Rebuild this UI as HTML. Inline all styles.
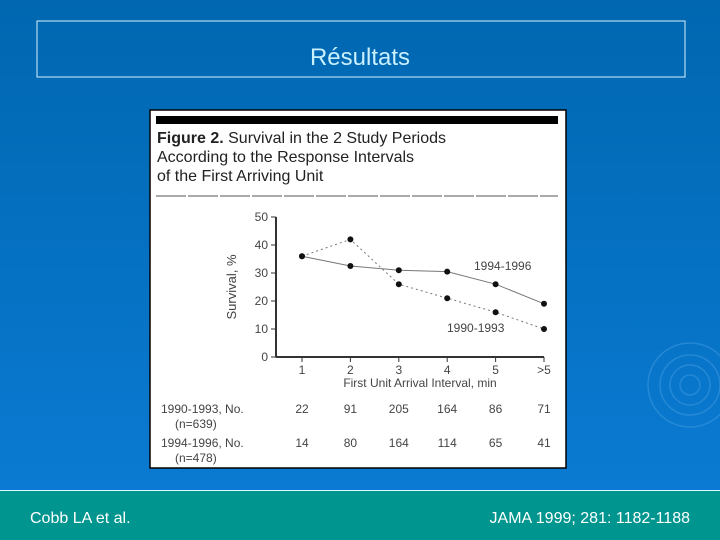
<!DOCTYPE html>
<html><head><meta charset="utf-8"><style>
body{margin:0;width:720px;height:540px;overflow:hidden;font-family:"Liberation Sans",sans-serif}
svg{display:block}
</style></head><body>
<svg id="s" width="720" height="540" xmlns="http://www.w3.org/2000/svg">
<defs><linearGradient id="bg" x1="0" y1="0" x2="0" y2="1"><stop offset="0" stop-color="#0067b0"/><stop offset="1" stop-color="#0a7ad2"/></linearGradient></defs>
<rect width="720" height="490" fill="url(#bg)"/>
<g fill="none" stroke="#3a95dc" stroke-width="1.5" opacity="0.6">
<circle cx="690" cy="385" r="10"/><circle cx="690" cy="385" r="20"/><circle cx="690" cy="385" r="30"/><circle cx="690" cy="385" r="42"/>
</g>
<rect x="37" y="21" width="648" height="56" fill="none" stroke="#d8f0ff" stroke-width="1"/>
<text x="360" y="65" font-size="24" fill="#c8f0ff" text-anchor="middle">Résultats</text>
<rect x="0" y="490" width="720" height="50" fill="#00958f"/>
<line x1="0" y1="490.5" x2="720" y2="490.5" stroke="#e0f8ff"/>
<text x="30" y="523" font-size="16" fill="#fff">Cobb LA et al.</text>
<text x="690" y="523" font-size="16" fill="#fff" text-anchor="end">JAMA 1999; 281: 1182-1188</text>

<rect x="150" y="110" width="416" height="358" fill="#fff" stroke="#000" stroke-width="1.5"/>
<rect x="156" y="116" width="402" height="8" fill="#000"/>
<text x="157" y="143" font-size="16" fill="#222"><tspan font-weight="bold">Figure 2.</tspan> Survival in the 2 Study Periods</text>
<text x="157" y="162" font-size="16" fill="#222">According to the Response Intervals</text>
<text x="157" y="181" font-size="16" fill="#222">of the First Arriving Unit</text>
<line x1="156" y1="196" x2="558" y2="196" stroke="#555" stroke-dasharray="30 2"/>
<g id="chart"></g>
</svg>
<script>
const categories=["1","2","3","4","5",">5"];
const series1990=[36,42,26,21,16,10];
const series1994=[36,32.5,31,30.5,26,19];
const yTicks=[0,10,20,30,40,50];
const counts1990=[22,91,205,164,86,71];
const counts1994=[14,80,164,114,65,41];
const NS="http://www.w3.org/2000/svg";
const g=document.getElementById('chart');
const x=i=>302+i*48.4;
const y=v=>357-v*2.8;
function el(t,a,txt){const e=document.createElementNS(NS,t);for(const k in a)e.setAttribute(k,a[k]);if(txt!==undefined)e.textContent=txt;g.appendChild(e);return e;}
let e;
e=el('line',{x1:276,y1:y(50),x2:276,y2:y(0),stroke:'#333','stroke-width':2});


e=el('line',{x1:276,y1:y(0),x2:x(5),y2:y(0),stroke:'#333','stroke-width':2});


yTicks.forEach(v=>{
 e=el('text',{x:268,y:y(v)+4,'font-size':12,fill:'#444','text-anchor':'end'},v);
 
 
 e=el('line',{x1:271,y1:y(v),x2:276,y2:y(v),stroke:'#333'});
 
 
});
categories.forEach((c,i)=>{
 e=el('text',{x:x(i),y:y(0)+17,'font-size':12,fill:'#444','text-anchor':'middle'},c);
 
 
 e=el('line',{x1:x(i),y1:y(0),x2:x(i),y2:y(0)+5,stroke:'#333'});
 
 
 e=el('text',{x:x(i),y:413,'font-size':12,fill:'#444','text-anchor':'middle'},counts1990[i]);
 
 
 e=el('text',{x:x(i),y:447,'font-size':12,fill:'#444','text-anchor':'middle'},counts1994[i]);
 
 
});
e=el('text',{x:420,y:387,'font-size':12,fill:'#444','text-anchor':'middle'},'First Unit Arrival Interval, min');


e=el('text',{x:0,y:0,'font-size':13,fill:'#444','text-anchor':'middle',transform:'translate(236,287) rotate(-90)'},'Survival, %');


[['1990-1993',series1990,'2 3'],['1994-1996',series1994,'']].forEach(([nm,s,d])=>{
 e=el('polyline',{points:s.map((v,i)=>x(i)+','+y(v)).join(' '),fill:'none',stroke:'#777','stroke-width':1,'stroke-dasharray':d});
 
 
 s.forEach((v,i)=>{
  e=el('circle',{cx:x(i),cy:y(v),r:3,fill:'#111'});
  
  
 });
});
e=el('text',{x:474,y:270,'font-size':12,fill:'#444'},'1994-1996');


e=el('text',{x:447,y:332,'font-size':12,fill:'#444'},'1990-1993');


[['1990-1993, No.',413],['(n=639)',428],['1994-1996, No.',447],['(n=478)',462]].forEach(([t,yy],k)=>{
 e=el('text',{x:k%2?175:161,y:yy,'font-size':12,fill:'#444'},t);
 
 
});
</script>
</body></html>
